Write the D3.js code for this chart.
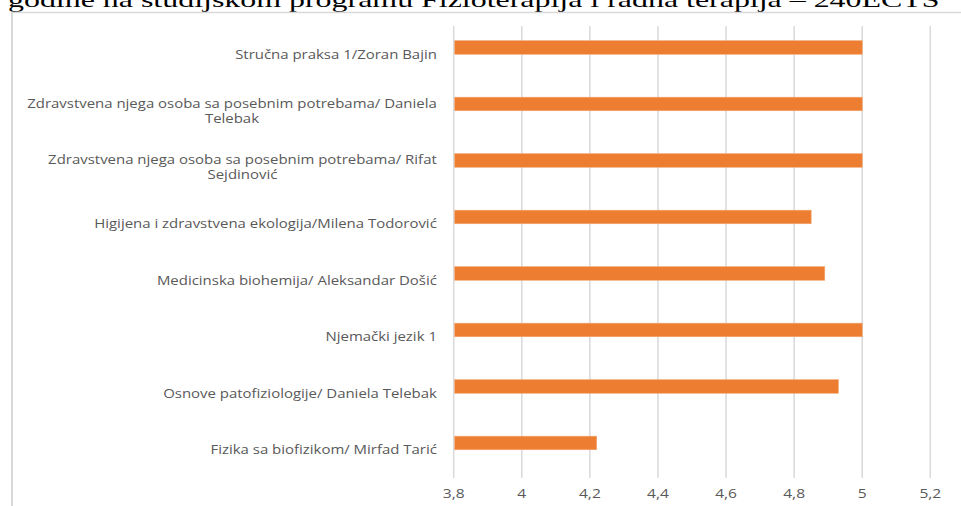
<!DOCTYPE html>
<html>
<head>
<meta charset="utf-8">
<script src="https://cdn.jsdelivr.net/npm/d3@7"></script>
<style>
  body { margin: 0; background: #fff; }
  svg { display: block; }
</style>
</head>
<body>
<script>
// Categories (top to bottom, as in the picture)
const categories = [
    "Stručna praksa 1/Zoran Bajin",
    "Zdravstvena njega osoba sa posebnim potrebama/ Daniela Telebak",
    "Zdravstvena njega osoba sa posebnim potrebama/ Rifat Sejdinović",
    "Higijena i zdravstvena ekologija/Milena Todorović",
    "Medicinska biohemija/ Aleksandar Došić",
    "Njemački jezik 1",
    "Osnove patofiziologije/ Daniela Telebak",
    "Fizika sa biofizikom/ Mirfad Tarić"
];

// Average grade per course
const values = [5, 5, 5, 4.85, 4.89, 5, 4.93, 4.22];

// x axis ticks
const xTicks = [3.8, 4, 4.2, 4.4, 4.6, 4.8, 5, 5.2];

const titleText = "godine na studijskom programu Fizioterapija i radna terapija – 240ECTS";

const width = 961;
const height = 506;

const svg = d3.select("body")
    .append("svg")
    .attr("width", width)
    .attr("height", height);

// helper to measure text width at a given font
function measure(str, font) {
    const t = svg.append("text").style("font", font).text(str);
    const w = t.node().getComputedTextLength();
    t.remove();
    return w;
}

// title cut off at the top (document text above the chart)
const titleFont = "22px 'Liberation Serif', 'Times New Roman', serif";
const titleSx = 932 / measure(titleText, titleFont);
svg.append("text")
    .attr("transform", `translate(8, 7) scale(${titleSx}, 1)`)
    .style("font", titleFont)
    .attr("fill", "#000")
    .text(titleText);

// chart frame (top and left edges visible)
svg.append("line")
    .attr("x1", 12).attr("x2", width)
    .attr("y1", 12.5).attr("y2", 12.5)
    .attr("stroke", "#d9d9d9")
    .attr("stroke-width", 1.5);
svg.append("line")
    .attr("x1", 12).attr("x2", 12)
    .attr("y1", 12).attr("y2", height)
    .attr("stroke", "#d9d9d9")
    .attr("stroke-width", 2);

// Scales
const xScale = d3.scaleLinear()
    .domain([3.8, 5.2])
    .range([453.7, 930.3]);

const yScale = d3.scaleBand()
    .domain(categories)
    .range([26, 478])
    .padding(0);

const step = yScale.step();
const barH = step * 0.24;

// Gridlines
svg.append("g")
    .selectAll("line")
    .data(xTicks)
    .enter()
    .append("line")
    .attr("x1", d => xScale(d))
    .attr("x2", d => xScale(d))
    .attr("y1", yScale.range()[0])
    .attr("y2", yScale.range()[1])
    .attr("stroke", "#d9d9d9")
    .attr("stroke-width", 1.5);

// Bars (sit just above the band centre, like the first of two series in Excel)
svg.append("g")
    .selectAll("rect")
    .data(values)
    .enter()
    .append("rect")
    .attr("x", xScale(3.8) + 1)
    .attr("y", (d, i) => yScale(categories[i]) + step / 2 - barH)
    .attr("width", d => xScale(d) - xScale(3.8) - 1)
    .attr("height", barH)
    .attr("fill", "#ed7d31")
    .attr("stroke", "#f3a56f")
    .attr("stroke-width", 0.6);

// Category labels
const labelFont = "12px 'Open Sans', sans-serif";
const labelSx = 202 / measure(categories[0], labelFont);
const labelRight = 437;
const maxLabelW = 420;
const lineH = 15;

function wrap(str) {
    const words = str.split(" ");
    const lines = [];
    let cur = "";
    words.forEach(w => {
        const test = cur ? cur + " " + w : w;
        if (cur && measure(test, labelFont) * labelSx > maxLabelW) {
            lines.push(cur);
            cur = w;
        } else {
            cur = test;
        }
    });
    lines.push(cur);
    return lines;
}

categories.forEach(c => {
    const lines = wrap(c);
    const maxW = d3.max(lines, l => measure(l, labelFont)) * labelSx;
    const cx = labelRight - maxW / 2;
    const cy = yScale(c) + step / 2;
    const g = svg.append("g")
        .attr("transform", `translate(${cx}, 0)`);
    lines.forEach((l, i) => {
        g.append("text")
            .attr("transform", `translate(0, ${cy + 4.5 + (i - (lines.length - 1) / 2) * lineH}) scale(${labelSx}, 1)`)
            .attr("text-anchor", "middle")
            .style("font", labelFont)
            .attr("fill", "#595959")
            .text(l);
    });
});

// x tick labels
const tickFont = "12.5px 'Open Sans', sans-serif";
svg.append("g")
    .selectAll("text")
    .data(xTicks)
    .enter()
    .append("text")
    .attr("transform", d => `translate(${xScale(d)}, 498) scale(${labelSx}, 1)`)
    .attr("text-anchor", "middle")
    .style("font", tickFont)
    .attr("fill", "#595959")
    .text(d => d3.format("")(d).replace(".", ","));
</script>
</body>
</html>
